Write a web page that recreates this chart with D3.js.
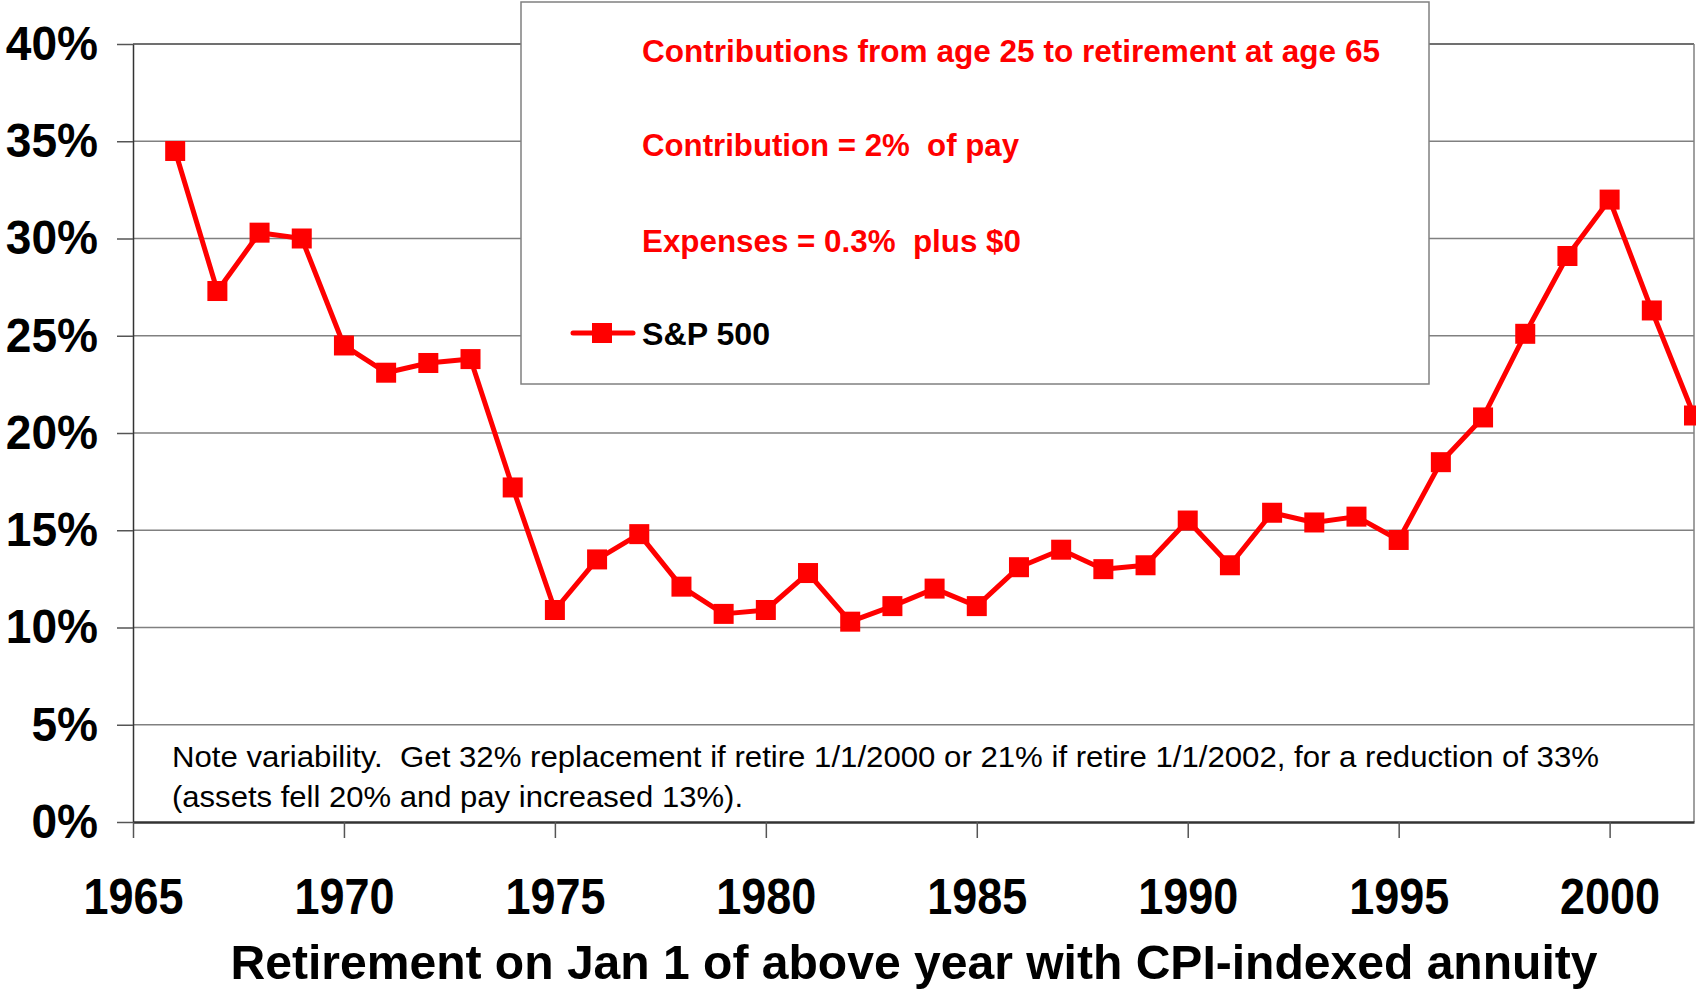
<!DOCTYPE html>
<html>
<head>
<meta charset="utf-8">
<script src="https://cdn.jsdelivr.net/npm/d3@7"></script>
<style>
  html, body { margin: 0; padding: 0; background: #fff; }
  svg { display: block; }
  text { font-family: "Liberation Sans", Arial, sans-serif; white-space: pre; }
</style>
</head>
<body>
<svg id="chart" width="1696" height="992"></svg>
<script>
// retirement year (Jan 1) and replacement rate, S&P 500
const years = [1966, 1967, 1968, 1969, 1970, 1971, 1972, 1973, 1974, 1975,
  1976, 1977, 1978, 1979, 1980, 1981, 1982, 1983, 1984, 1985,
  1986, 1987, 1988, 1989, 1990, 1991, 1992, 1993, 1994, 1995,
  1996, 1997, 1998, 1999, 2000, 2001, 2002];
const sp500 = [34.5, 27.3, 30.3, 30.0, 24.5, 23.1, 23.6, 23.8, 17.2, 10.9,
  13.5, 14.8, 12.1, 10.7, 10.9, 12.8, 10.3, 11.1, 12.0, 11.1,
  13.1, 14.0, 13.0, 13.2, 15.5, 13.2, 15.9, 15.4, 15.7, 14.5,
  18.5, 20.8, 25.1, 29.1, 32.0, 26.3, 20.9];

const xTicks = [1965, 1970, 1975, 1980, 1985, 1990, 1995, 2000];
const yTicks = [0, 5, 10, 15, 20, 25, 30, 35, 40];

const legendLines = [
  "Contributions from age 25 to retirement at age 65",
  "Contribution = 2%  of pay",
  "Expenses = 0.3%  plus $0"
];
const seriesName = "S&P 500";
const noteLines = [
  "Note variability.  Get 32% replacement if retire 1/1/2000 or 21% if retire 1/1/2002, for a reduction of 33%",
  "(assets fell 20% and pay increased 13%)."
];
const xTitle = "Retirement on Jan 1 of above year with CPI-indexed annuity";

const svg = d3.select("#chart");
const red = "#ff0000";

const x = d3.scaleLinear().domain([1965, 2002]).range([133, 1694]);
const y = d3.scaleLinear().domain([0, 40]).range([822, 44]);

// gridlines
svg.append("g")
  .selectAll("line")
  .data(yTicks.filter(d => d > 0))
  .join("line")
  .attr("x1", x(1965)).attr("x2", x(2002))
  .attr("y1", d => y(d)).attr("y2", d => y(d))
  .attr("stroke", d => d === 40 ? "#404040" : "#808080")
  .attr("stroke-width", 1.5);

// right border of plot
svg.append("line")
  .attr("x1", x(2002)).attr("x2", x(2002))
  .attr("y1", y(40)).attr("y2", y(0))
  .attr("stroke", "#808080").attr("stroke-width", 1.5);

// y axis
const ySx = 0.96;
const yAxis = svg.append("g")
  .attr("transform", `translate(${x(1965)},0)`)
  .call(d3.axisLeft(y).tickValues(yTicks).tickSize(16).tickSizeOuter(0).tickFormat(d => d + "%"));
yAxis.select(".domain").attr("stroke", "#333").attr("stroke-width", 1.5);
yAxis.selectAll(".tick line").attr("stroke", "#555").attr("stroke-width", 1.5);
yAxis.selectAll(".tick text")
  .attr("x", -35 / ySx)
  .attr("transform", `scale(${ySx},1)`)
  .attr("font-family", "Liberation Sans, Arial, sans-serif")
  .attr("font-size", 48).attr("font-weight", "bold").attr("fill", "#000");

// x axis
const xAxis = svg.append("g")
  .attr("transform", `translate(0,${y(0)})`)
  .call(d3.axisBottom(x).tickValues(xTicks).tickSize(16).tickSizeOuter(0).tickFormat(d3.format("d")));
xAxis.select(".domain").attr("stroke", "#333").attr("stroke-width", 2.5);
xAxis.selectAll(".tick line").attr("stroke", "#555").attr("stroke-width", 1.5);
xAxis.selectAll(".tick text")
  .attr("y", 56)
  .attr("textLength", 100).attr("lengthAdjust", "spacingAndGlyphs")
  .attr("font-family", "Liberation Sans, Arial, sans-serif")
  .attr("font-size", 50).attr("font-weight", "bold").attr("fill", "#000");

// axis title
svg.append("text")
  .attr("x", 914).attr("y", 979)
  .attr("text-anchor", "middle")
  .attr("font-size", 48).attr("font-weight", "bold")
  .attr("textLength", 1367).attr("lengthAdjust", "spacingAndGlyphs")
  .text(xTitle);

// note inside plot
svg.append("g")
  .selectAll("text")
  .data(noteLines)
  .join("text")
  .attr("x", 172)
  .attr("y", (d, i) => 767 + i * 40)
  .attr("font-size", 30)
  .attr("textLength", (d, i) => i === 0 ? 1427 : 571)
  .attr("lengthAdjust", "spacingAndGlyphs")
  .attr("fill", "#000")
  .text(d => d);

// legend box
const legend = svg.append("g");
legend.append("rect")
  .attr("x", 521).attr("y", 2).attr("width", 908).attr("height", 382)
  .attr("fill", "#fff").attr("stroke", "#808080").attr("stroke-width", 1.5);
legend.selectAll("text.info")
  .data(legendLines)
  .join("text")
  .attr("class", "info")
  .attr("x", 642)
  .attr("y", (d, i) => [62, 156, 252][i])
  .attr("font-size", 31).attr("font-weight", "bold").attr("fill", red)
  .attr("textLength", (d, i) => [738, 377, 379][i])
  .attr("lengthAdjust", "spacingAndGlyphs")
  .text(d => d);
legend.append("line")
  .attr("x1", 573).attr("x2", 633).attr("y1", 333).attr("y2", 333)
  .attr("stroke", red).attr("stroke-width", 5).attr("stroke-linecap", "round");
legend.append("rect")
  .attr("x", 592).attr("y", 323).attr("width", 20).attr("height", 20)
  .attr("fill", red);
legend.append("text")
  .attr("x", 642).attr("y", 345)
  .attr("font-size", 31).attr("font-weight", "bold").attr("fill", "#000")
  .attr("textLength", 128).attr("lengthAdjust", "spacingAndGlyphs")
  .text(seriesName);

// series
const data = years.map((yr, i) => ({ year: yr, value: sp500[i] }));
const line = d3.line().x(d => x(d.year)).y(d => y(d.value));

svg.append("path")
  .datum(data)
  .attr("d", line)
  .attr("fill", "none")
  .attr("stroke", red)
  .attr("stroke-width", 5)
  .attr("stroke-linejoin", "round");

svg.append("g")
  .selectAll("rect")
  .data(data)
  .join("rect")
  .attr("x", d => x(d.year) - 10)
  .attr("y", d => y(d.value) - 10)
  .attr("width", 20).attr("height", 20)
  .attr("fill", red);
</script>
</body>
</html>
